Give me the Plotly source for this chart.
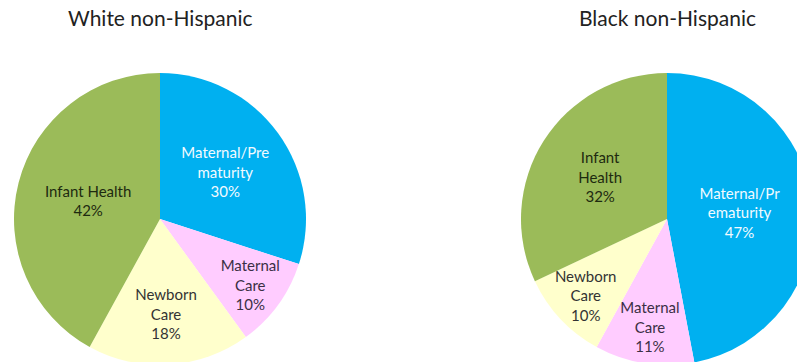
import plotly.graph_objects as go

categories = ["Maternal/Prematurity", "Maternal Care", "Newborn Care", "Infant Health"]
white_values = [30, 10, 18, 42]
black_values = [47, 11, 10, 32]
white_text = ["Maternal/Pre<br>maturity<br>30%", "Maternal<br>Care<br>10%", "Newborn<br>Care<br>18%", "Infant Health<br>42%"]
black_text = ["Maternal/Pr<br>ematurity<br>47%", "Maternal<br>Care<br>11%", "Newborn<br>Care<br>10%", "Infant<br>Health<br>32%"]
titles = ["White non-Hispanic", "Black non-Hispanic"]

colors = ["#00B0F0", "#FFCCFF", "#FFFFCC", "#9BBB59"]
text_colors = ["#F2FAFF", "#3B2F45", "#333333", "#1E2A10"]

W, H = 815, 368

def dom(cx, cy, r):
    return dict(x=[(cx - r) / W, (cx + r) / W], y=[1 - (cy + r) / H, 1 - (cy - r) / H])

fig = go.Figure()
for vals, txt, d in [(white_values, white_text, dom(160, 219, 146)),
                     (black_values, black_text, dom(667, 219, 146))]:
    fig.add_trace(go.Pie(
        labels=categories, values=vals, text=txt, textinfo="text",
        textposition="inside", insidetextorientation="horizontal",
        sort=False, direction="clockwise", rotation=0,
        marker=dict(colors=colors, line=dict(width=0)),
        textfont=dict(family="Lato", size=15, color=text_colors),
        domain=d, showlegend=False, hoverinfo="label+percent",
    ))

for t, cx in zip(titles, [160, 667]):
    fig.add_annotation(text=t, x=cx / W, y=1 - 17 / H, xref="paper", yref="paper",
                       showarrow=False, xanchor="center", yanchor="middle",
                       font=dict(family="Lato", size=21, color="#222222"))

fig.update_layout(width=W, height=H, margin=dict(l=0, r=0, t=0, b=0),
                  paper_bgcolor="white", plot_bgcolor="white",
                  uniformtext=dict(minsize=15, mode="show"))

fig.write_html("out.html", post_script="document.body.style.margin='0';document.body.style.overflow='hidden';document.documentElement.style.overflow='hidden';")
